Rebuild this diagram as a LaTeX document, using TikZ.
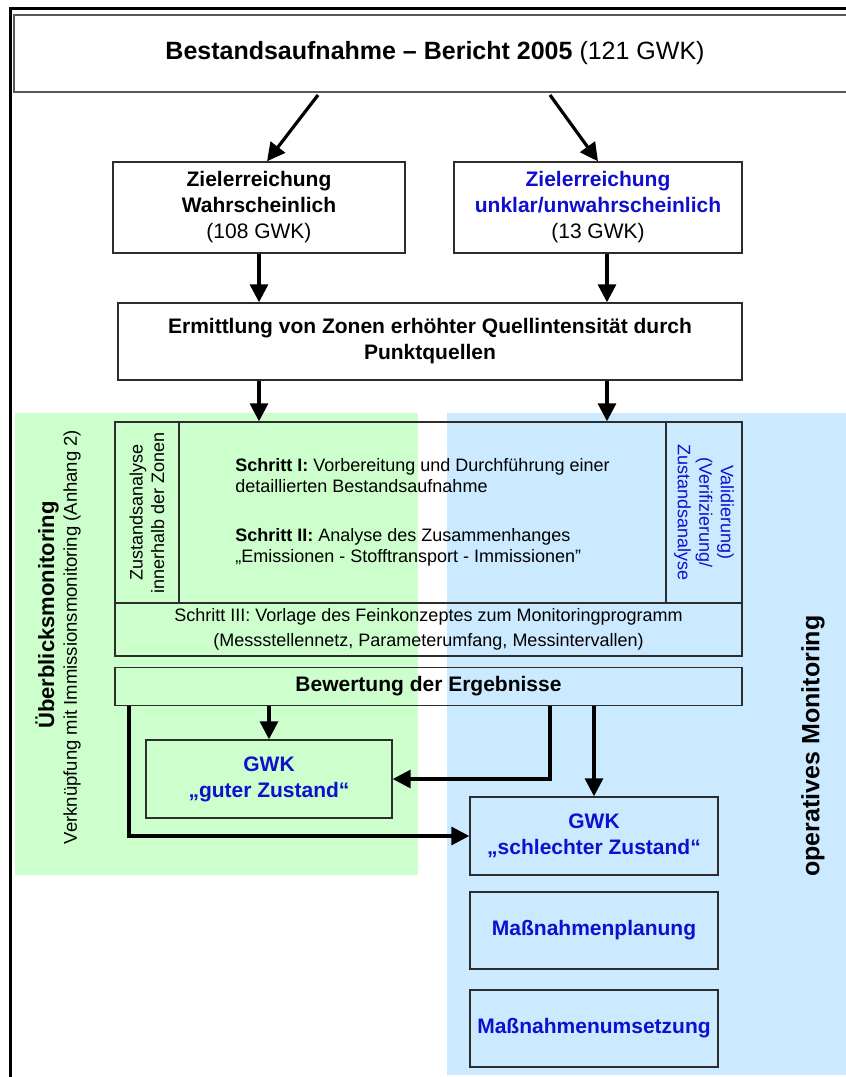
\documentclass[tikz,border=0pt]{standalone}
\usepackage{fontspec}
\setmainfont{Liberation Sans}
\usetikzlibrary{arrows.meta}
\definecolor{gruen}{RGB}{204,255,204}
\definecolor{hblau}{RGB}{204,234,255}
\definecolor{schrift}{RGB}{15,15,205}
\definecolor{rand}{RGB}{45,45,45}

\begin{document}
\begin{tikzpicture}[x=1pt,y=-1pt,
  box/.style={draw=rand,line width=1.4pt,inner sep=0pt,align=center},
  pfeil/.style={line width=3.2pt,-{Triangle[width=18pt,length=18pt]}},
  fett/.style={font=\fontsize{21}{26}\selectfont\bfseries},
  klein/.style={font=\fontsize{18}{21.5}\selectfont}]
\useasboundingbox (0,0) rectangle (846,1077);
\clip (0,0) rectangle (846,1077);
\fill[gruen] (15,413) rectangle (418,875);
\fill[hblau] (447,413) rectangle (846,1075);
\draw[line width=3pt] (10,1077) -- (10,8) -- (846,8);

\node[box,draw=rand!80,line width=1.8pt,minimum width=842,minimum height=77,font=\fontsize{25}{30}\selectfont\bfseries] (bericht) at (435,53.5) {Bestandsaufnahme -- Bericht 2005 \mdseries(121 GWK)};
\node[box,fill=white,minimum width=292,minimum height=91,fett] (wahr) at (259,207.5) {Zielerreichung\\Wahrscheinlich\\\mdseries(108 GWK)};
\node[box,fill=white,minimum width=288,minimum height=91,fett] (unklar) at (598,207.5) {\color{schrift}Zielerreichung\\\color{schrift}unklar/unwahrscheinlich\\\mdseries(13 GWK)};
\node[box,fill=white,minimum width=624,minimum height=77,fett] (zonen) at (430,341.5) {Ermittlung von Zonen erhöhter Quellintensität durch\\Punktquellen};

\node[box,rotate=90,minimum width=181,minimum height=64,klein] (zustand) at (147,512.5) {Zustandsanalyse\\innerhalb der Zonen};
\node[box,align=left,minimum width=487,minimum height=181,klein] (schritte) at (422.5,512.5) {\textbf{Schritt I:} Vorbereitung und Durchführung einer\\detaillierten Bestandsaufnahme\\[27pt]\textbf{Schritt II:} Analyse des Zusammenhanges\\„Emissionen - Stofftransport - Immissionen"};
\node[box,rotate=-90,minimum width=181,minimum height=76,klein,text=schrift] (verif) at (704,512.5) {Validierung)\\(Verifizierung/\\Zustandsanalyse};
\node[box,minimum width=627,minimum height=53,font=\fontsize{18}{24.5}\selectfont] (schritt3) at (428.5,629.5) {Schritt III: Vorlage des Feinkonzeptes zum Monitoringprogramm\\(Messstellennetz, Parameterumfang, Messintervallen)};
\node[box,minimum width=627,minimum height=38,fett] (bewertung) at (428.5,686.5) {Bewertung der Ergebnisse};

\node[box,minimum width=246,minimum height=78,fett,text=schrift] (gut) at (269,779) {GWK\\„guter Zustand“};
\node[box,minimum width=248,minimum height=78,fett,text=schrift] (schlecht) at (594,836) {GWK\\„schlechter Zustand“};
\node[box,minimum width=248,minimum height=77,fett,text=schrift] (planung) at (594,930.5) {Maßnahmenplanung};
\node[box,minimum width=248,minimum height=77,fett,text=schrift] (umsetzung) at (594,1028.5) {Maßnahmenumsetzung};

\node[rotate=90,font=\fontsize{22}{26}\selectfont\bfseries] (ueberblick) at (47,615) {Überblicksmonitoring};
\node[rotate=90,font=\fontsize{18.5}{22}\selectfont] (verknuepfung) at (72,637) {Verknüpfung mit Immissionsmonitoring (Anhang 2)};
\node[rotate=90,font=\fontsize{25}{29}\selectfont\bfseries] (operativ) at (813,746) {operatives Monitoring};

\coordinate (b1) at (318,95);
\coordinate (b2) at (550,95);
\coordinate (rechts) at (607,0);
\draw[pfeil] (b1) -- ([xshift=8pt]wahr.north);
\draw[pfeil] (b2) -- (unklar.north);
\draw[pfeil] (wahr) -- (wahr |- zonen.north);
\draw[pfeil] (rechts |- unklar.south) -- (rechts |- zonen.north);
\draw[pfeil] (wahr |- zonen.south) -- (wahr |- schritte.north);
\draw[pfeil] (rechts |- zonen.south) -- (rechts |- schritte.north);
\draw[pfeil] (gut |- bewertung.south) -- (gut.north);
\draw[pfeil] ([xshift=121.5pt]bewertung.south) |- (gut.east);
\draw[pfeil] (schlecht.north |- bewertung.south) -- (schlecht.north);
\draw[pfeil] ([xshift=-299.5pt]bewertung.south) |- (schlecht.west);
\end{tikzpicture}
\end{document}
